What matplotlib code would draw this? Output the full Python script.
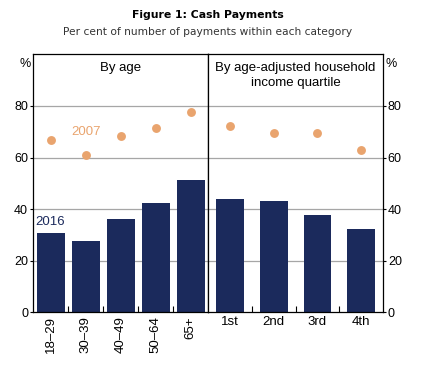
import matplotlib
matplotlib.use("Agg")
import numpy as np
from matplotlib import pyplot as plt
from matplotlib.ticker import FixedLocator

# data
age_labels = ["18\u201329", "30\u201339", "40\u201349", "50\u201364", "65+"]
age_2016 = [30.6, 27.5, 36.0, 42.2, 51.1]
age_2007 = [66.7, 61.0, 68.2, 71.4, 77.7]

inc_labels = ["1st", "2nd", "3rd", "4th"]
inc_2016 = [44.1, 43.0, 37.6, 32.2]
inc_2007 = [72.2, 69.5, 69.6, 62.9]

yticks = [0, 20, 40, 60, 80]

navy = "#1b2a5c"
peach = "#e9a46e"
grid_c = "#a6a6a6"
font = ["Liberation Sans", "DejaVu Sans"]

fig = plt.figure(figsize=(4.41, 3.73), dpi=100)

bot = 1 - 312.3 / 373
top = 1 - 54.3 / 373
h = top - bot
x0, xm, x1 = 33 / 441, 208.3 / 441, 383 / 441
ax1 = fig.add_axes([x0, bot, xm - x0, h])
ax2 = fig.add_axes([xm, bot, x1 - xm, h])

def panel(ax, labels, v16, v07, width, title, rot):
    n = len(labels)
    x = np.arange(n)
    ax.set_axisbelow(True)
    for y in yticks[1:]:
        ax.axhline(y, color=grid_c, lw=0.9, zorder=0)
    ax.bar(x, v16, width=width, color=navy, zorder=2)
    ax.plot(x, v07, "o", color=peach, ms=6.4, mec="none", zorder=3)
    ax.set_xlim(-0.5, n - 0.5)
    ax.set_ylim(0, 100)
    ax.set_xticks(x)
    ax.set_xticklabels(labels, rotation=rot, fontsize=9.5, family=font,
                       va="top", ha="center")
    ax.xaxis.set_minor_locator(FixedLocator(np.arange(0.5, n - 0.5, 1)))
    ax.tick_params(axis="x", which="major", length=0, pad=3)
    ax.tick_params(axis="x", which="minor", direction="in", length=4.5, width=0.8)
    ax.set_yticks(yticks)
    for s in ax.spines.values():
        s.set_linewidth(0.9)
    ax.text(0.5, 0.972, title, transform=ax.transAxes, ha="center", va="top",
            fontsize=9.5, family=font, linespacing=1.4)

panel(ax1, age_labels, age_2016, age_2007, 0.8, "By age", 90)
panel(ax2, inc_labels, inc_2016, inc_2007, 0.64,
      "By age-adjusted household\nincome quartile", 0)

ax1.tick_params(axis="y", direction="out", length=2.5, width=0.8,
                labelsize=9, pad=1)
ax1.set_yticklabels([str(t) for t in yticks], family=font)
ax2.yaxis.tick_right()
ax2.tick_params(axis="y", direction="out", length=2.5, width=0.8,
                labelsize=9, pad=1)
ax2.set_yticklabels([str(t) for t in yticks], family=font)

ax1.text(-0.015, 0.985, "%", transform=ax1.transAxes, ha="right", va="top",
         fontsize=9, family=font)
ax2.text(1.015, 0.985, "%", transform=ax2.transAxes, ha="left", va="top",
         fontsize=9, family=font)

# series labels
ax1.text(1, 70, "2007", color=peach, ha="center", va="center", fontsize=9.5, family=font)
ax1.text(0, 35.0, "2016", color=navy, ha="center", va="center", fontsize=9.5, family=font)

fig.text(208 / 441, 1 - 15 / 373, "Figure 1: Cash Payments", ha="center",
         va="center", fontsize=7.8, fontweight="bold")
fig.text(208 / 441, 1 - 32 / 373, "Per cent of number of payments within each category",
         ha="center", va="center", fontsize=7.7, color="#333333")

fig.savefig("out.png", dpi=100)
